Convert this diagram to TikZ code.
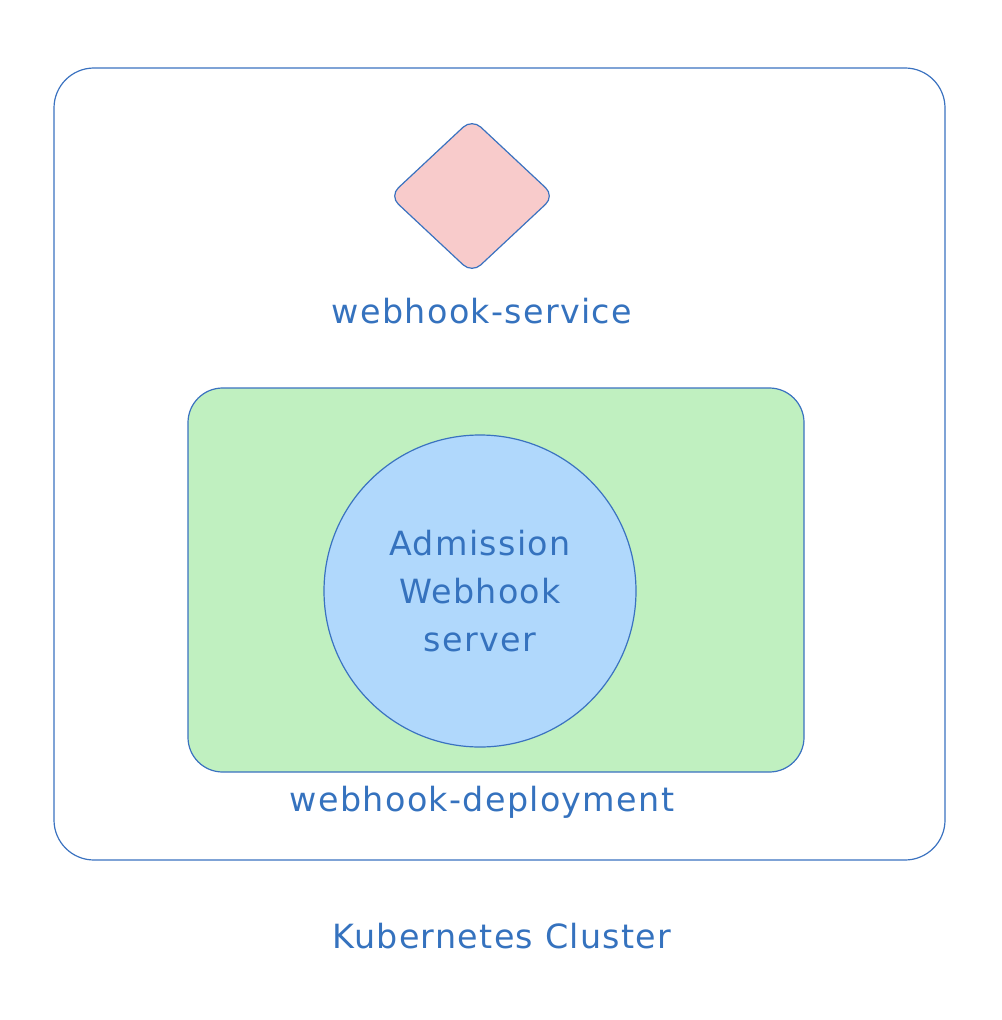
\documentclass[tikz,border=0pt]{standalone}
\usepackage{fontspec}
\setmainfont[LetterSpace=4]{DejaVu Sans}
\usetikzlibrary{shapes.geometric}
\definecolor{edgeblue}{HTML}{3A72C0}
\definecolor{textblue}{HTML}{3572BE}
\definecolor{svcpink}{HTML}{F8CBCB}
\definecolor{depgreen}{HTML}{C0F0C0}
\definecolor{srvblue}{HTML}{B0D8FC}
\begin{document}
\begin{tikzpicture}[x=0.75pt, y=-0.75pt, line width=0.9pt,
		box/.style={draw=edgeblue, rectangle, inner sep=0pt},
		label/.style={text=textblue, font=\fontsize{25}{36}\selectfont, align=center}]
		\useasboundingbox (0,0) rectangle (1002,1020);
		\node (cluster) at (499.5,464) [box, rounded corners=30pt, minimum width=668.25pt, minimum height=594pt] {};
		\node (service) at (472,196) [box, diamond, fill=svcpink, rounded corners=9pt, minimum width=124pt, minimum height=116pt] {};
		\node (deploy) at (496,580) [box, fill=depgreen, rounded corners=26pt, minimum width=462pt, minimum height=288pt] {};
		\node (server) at (480,591) [box, circle, fill=srvblue, minimum size=234pt] {};
		\node (servicelbl) at (482,311) [label] {webhook-service};
		\node (serverlbl) at (server.center) [label] {Admission\\Webhook\\server};
		\node (deploylbl) at (482,802) [label] {webhook-deployment};
		\node (clusterlbl) at (502,936) [label] {Kubernetes Cluster};
		\end{tikzpicture}
\end{document}
